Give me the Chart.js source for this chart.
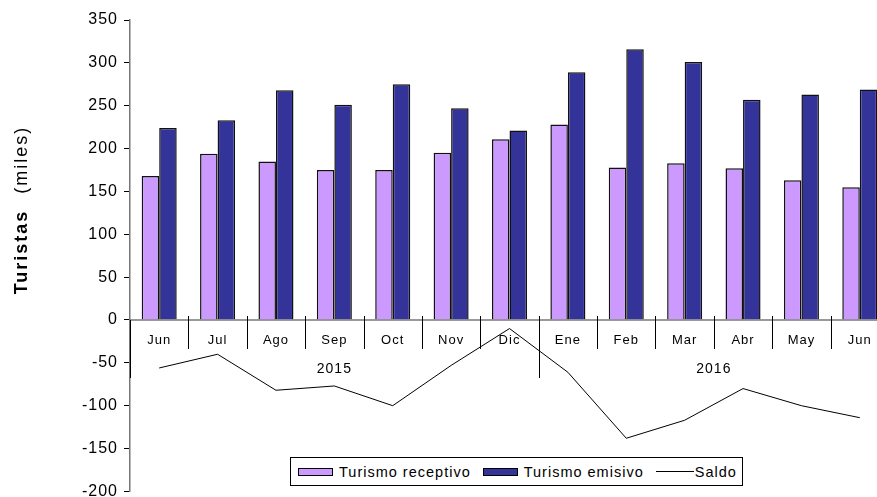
<!DOCTYPE html>
<html lang="es">
<head>
<meta charset="UTF-8">
<title>Turistas</title>
<script src="https://cdn.jsdelivr.net/npm/chart.js"></script>
<style>
  * { margin: 0; padding: 0; box-sizing: border-box; }
  body { background: #fff; width: 877px; height: 497px; overflow: hidden; font-family: 'Liberation Sans', Arial, sans-serif; }
  .wrap { position: relative; width: 890px; height: 507px; }
  #legend {
    position: absolute; left: 290px; top: 457px; width: 453px; height: 29px;
    border: 1px solid #000; background: #fff;
    display: flex; align-items: center; padding-left: 7px;
    font-size: 14.5px; letter-spacing: 1px; color: #000; white-space: nowrap;
  }
  #legend .item { display: flex; align-items: center; margin-right: 12px; flex-shrink: 0; }
  #legend .sw { width: 35px; height: 8px; border: 1px solid #000; margin-right: 6px; }
  #legend .ln { width: 38px; height: 1px; background: #000; margin-right: 1px; }
</style>
</head>
<body>
<div class="wrap">
  <canvas id="chart" width="890" height="507"></canvas>
  <div id="legend"></div>
</div>
<script>
const months = ['Jun', 'Jul', 'Ago', 'Sep', 'Oct', 'Nov', 'Dic', 'Ene', 'Feb', 'Mar', 'Abr', 'May', 'Jun'];
const years = ['2015', '2016'];
const yearCounts = [7, 6];
const receptivo = [168, 194, 185, 175, 175, 195, 211, 228, 178, 183, 177, 163, 155];
const emisivo = [224, 233, 268, 251, 275, 247, 221, 289, 316, 301, 257, 263, 269];
const saldo = [-56, -40, -82, -77, -100, -53, -10, -61, -138, -117, -80, -100, -114];

const FONT = "'Liberation Sans', Arial, sans-serif";

// x axis at zero: month ticks, dividers, years
const xAxisPlugin = {
  id: 'xAxisPlugin',
  afterDraw(chart) {
    const ctx = chart.ctx, xs = chart.scales.x, ys = chart.scales.y, area = chart.chartArea;
    const y0 = ys.getPixelForValue(0);
    const half = (xs.getPixelForValue(1) - xs.getPixelForValue(0)) / 2;
    ctx.save();
    ctx.strokeStyle = '#777';
    ctx.lineWidth = 1.5;
    ctx.beginPath();
    ctx.moveTo(area.left, y0);
    ctx.lineTo(area.right, y0);
    ctx.stroke();

    ctx.strokeStyle = '#000';
    ctx.lineWidth = 1;
    ctx.beginPath();
    ctx.moveTo(area.left + 0.5, y0);
    ctx.lineTo(area.left + 0.5, y0 + 58);
    let idx = 0;
    const yearEnds = [];
    yearCounts.forEach(c => { idx += c; yearEnds.push(idx - 1); });
    for (let i = 0; i < months.length - 1; i++) {
      const bx = Math.round(xs.getPixelForValue(i) + half) + 0.5;
      ctx.moveTo(bx, y0 - 4);
      ctx.lineTo(bx, yearEnds.includes(i) ? y0 + 58 : y0 + 29);
    }
    ctx.stroke();

    ctx.fillStyle = '#000';
    ctx.textAlign = 'center';
    ctx.textBaseline = 'middle';
    ctx.letterSpacing = '1px';
    ctx.font = '13px ' + FONT;
    months.forEach((m, i) => ctx.fillText(m, xs.getPixelForValue(i), y0 + 20));

    ctx.font = '14px ' + FONT;
    let start = 0;
    years.forEach((yr, k) => {
      const end = start + yearCounts[k] - 1;
      const cx = (xs.getPixelForValue(start) - half + xs.getPixelForValue(end) + half) / 2;
      ctx.fillText(yr, cx, y0 + 49);
      start = end + 1;
    });

    // y title
    ctx.translate(22, 210);
    ctx.rotate(-Math.PI / 2);
    ctx.letterSpacing = '2px';
    ctx.textAlign = 'left';
    ctx.font = 'bold 18px ' + FONT;
    const wB = ctx.measureText('Turistas').width;
    ctx.font = '18px ' + FONT;
    const wN = ctx.measureText('(miles)').width;
    const gap = 16;
    const x0 = -(wB + gap + wN) / 2;
    ctx.font = 'bold 18px ' + FONT;
    ctx.fillText('Turistas', x0, 0);
    ctx.font = '18px ' + FONT;
    ctx.fillText('(miles)', x0 + wB + gap, 0);
    ctx.restore();
  }
};

const spacingPlugin = {
  id: 'spacing',
  beforeDraw(chart) { chart.ctx.letterSpacing = '1px'; }
};

const chart = new Chart(document.getElementById('chart'), {
  data: {
    labels: months,
    datasets: [
      { type: 'line', label: 'Saldo', data: saldo, borderColor: '#000', borderWidth: 1, pointRadius: 0, tension: 0, order: 0 },
      { type: 'bar', label: 'Turismo receptivo', data: receptivo, backgroundColor: '#CC99FF', borderColor: '#111', borderWidth: 1.5, order: 1 },
      { type: 'bar', label: 'Turismo emisivo', data: emisivo, backgroundColor: '#333399', borderColor: '#111', borderWidth: 1.5, order: 1 }
    ]
  },
  options: {
    responsive: false,
    animation: false,
    layout: { padding: { top: 20, bottom: 6, left: 0, right: 1 } },
    datasets: { bar: { categoryPercentage: 0.6, barPercentage: 1.0 } },
    scales: {
      x: { display: false, offset: true },
      y: {
        min: -200, max: 350,
        afterFit(scale) { scale.width = 130; },
        ticks: { stepSize: 50, color: '#000', padding: 6, font: { family: FONT, size: 16 } },
        grid: { drawOnChartArea: false, tickLength: 6, color: '#000' },
        border: { color: '#777', width: 1.5 }
      }
    },
    plugins: { legend: { display: false }, tooltip: { enabled: false } }
  },
  plugins: [spacingPlugin, xAxisPlugin]
});

// HTML legend built from datasets
const legendOrder = [1, 2, 0];
document.getElementById('legend').innerHTML = legendOrder.map(i => {
  const ds = chart.data.datasets[i];
  const mark = ds.type === 'line'
    ? '<span class="ln"></span>'
    : `<span class="sw" style="background:${ds.backgroundColor}"></span>`;
  return `<span class="item">${mark}${ds.label}</span>`;
}).join('');
</script>
</body>
</html>
